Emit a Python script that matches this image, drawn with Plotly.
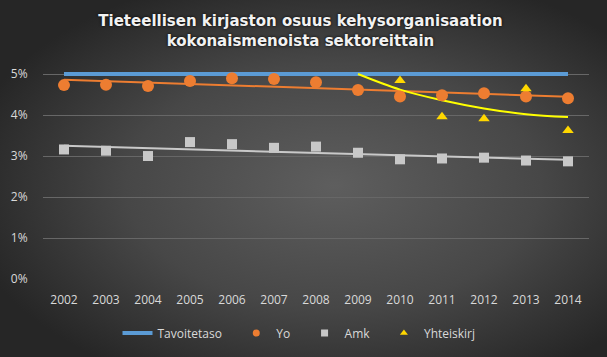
import base64
import numpy as np
import plotly.graph_objects as go

years = [str(y) for y in range(2002, 2015)]
tavoite = [0.05] * 13
yo = [4.73, 4.74, 4.71, 4.83, 4.90, 4.88, 4.80, 4.61, 4.45, 4.48, 4.53, 4.45, 4.41]
amk = [3.16, 3.13, 3.00, 3.34, 3.29, 3.20, 3.23, 3.08, 2.92, 2.94, 2.96, 2.89, 2.87]
yht_years = ["2010", "2011", "2012", "2013", "2014"]
yht = [4.84, 3.96, 3.91, 4.64, 3.62]
# trendline of Yhteiskirj
yht_trend_years = ["2009", "2010", "2011", "2012", "2013", "2014"]
yht_trend = [5.00, 4.62, 4.36, 4.16, 4.02, 3.95]
y_ticks = [0, 0.01, 0.02, 0.03, 0.04, 0.05]

W, H = 607, 357
L, R, T, B = 43, 18, 72, 78
pw, ph = W - L - R, H - T - B
PAD = "\u00a0\u00a0\u00a0"

# linear trendlines
xi = np.arange(len(years))
yo_fit = np.polyval(np.polyfit(xi, yo, 1), xi)
amk_fit = np.polyval(np.polyfit(xi, amk, 1), xi)

svg = f'''<svg xmlns="http://www.w3.org/2000/svg" width="{W}" height="{H}" preserveAspectRatio="none">
<defs><radialGradient id="g" cx="0.55" cy="0.52" r="0.62" gradientUnits="objectBoundingBox">
<stop offset="0" stop-color="#5e5e5e"/><stop offset="0.55" stop-color="#474747"/><stop offset="1" stop-color="#262626"/>
</radialGradient></defs><rect width="{W}" height="{H}" fill="url(#g)"/></svg>'''
src = "data:image/svg+xml;base64," + base64.b64encode(svg.encode()).decode()

fig = go.Figure()
fig.add_trace(go.Scatter(x=years, y=tavoite, mode="lines", name="Tavoitetaso" + PAD,
                         line=dict(color="#5B9BD5", width=4)))
fig.add_trace(go.Scatter(x=years, y=yo_fit / 100, mode="lines", showlegend=False,
                         line=dict(color="#ED7D31", width=2), hoverinfo="skip"))
fig.add_trace(go.Scatter(x=years, y=amk_fit / 100, mode="lines", showlegend=False,
                         line=dict(color="#C9C9C9", width=2), hoverinfo="skip"))
fig.add_trace(go.Scatter(x=yht_trend_years, y=[v / 100 for v in yht_trend], mode="lines",
                         showlegend=False, line=dict(color="#FFFF00", width=2, shape="spline"),
                         hoverinfo="skip"))
fig.add_trace(go.Scatter(x=years, y=[v / 100 for v in yo], mode="markers", showlegend=False,
                         marker=dict(color="#ED7D31", size=12, symbol="circle")))
fig.add_trace(go.Scatter(x=years, y=[v / 100 for v in amk], mode="markers", showlegend=False,
                         marker=dict(color="#C8C8C8", size=10, symbol="square")))
fig.add_trace(go.Scatter(x=yht_years, y=[v / 100 for v in yht], mode="markers", showlegend=False,
                         marker=dict(color="#FFD700", size=10, symbol="triangle-up")))
# legend entries with small symbols
for nm, col, sym in [("Yo", "#ED7D31", "circle"), ("Amk", "#C8C8C8", "square"),
                     ("Yhteiskirj", "#FFD700", "triangle-up")]:
    fig.add_trace(go.Scatter(x=[None], y=[None], mode="markers", name=nm + PAD,
                             marker=dict(color=col, size=7, symbol=sym)))

fig.update_layout(
    width=W, height=H,
    margin=dict(l=L, r=R, t=T, b=B, autoexpand=False),
    paper_bgcolor="#3a3a3a", plot_bgcolor="rgba(0,0,0,0)",
    font=dict(family="Open Sans, DejaVu Sans, sans-serif", color="#D9D9D9", size=12),
    title=dict(text="Tieteellisen kirjaston osuus kehysorganisaation<br>kokonaismenoista sektoreittain",
               x=0.495, xref="container", xanchor="center", y=1 - 26 / H, yref="container",
               yanchor="top",
               font=dict(family="DejaVu Sans, sans-serif", size=15, color="#F2F2F2",
                         weight="bold", shadow="0px 0px 3px #000")),
    showlegend=True,
    legend=dict(orientation="h", x=0.5, xanchor="center", xref="container",
                y=1 - 333 / H, yref="container", yanchor="middle",
                font=dict(size=12, color="#D9D9D9"), bgcolor="rgba(0,0,0,0)",
                traceorder="normal"),
    images=[dict(source=src, xref="paper", yref="paper", x=-L / pw, y=1 + T / ph,
                 sizex=W / pw, sizey=H / ph, sizing="stretch", layer="below",
                 xanchor="left", yanchor="top")],
)
fig.update_xaxes(type="category", range=[-0.5, 12.5], showgrid=False, zeroline=False,
                 showline=False, ticks="outside", ticklen=10, tickcolor="rgba(0,0,0,0)",
                 tickfont=dict(size=12, color="#D9D9D9"), automargin=False)
fig.update_yaxes(range=[0, 0.0505], tickvals=y_ticks, tickformat=".0%",
                 showgrid=True, gridcolor="#676767", gridwidth=1, zeroline=False,
                 ticks="outside", ticklen=12, tickcolor="rgba(0,0,0,0)",
                 tickfont=dict(size=12, color="#D9D9D9"), automargin=False)

fig.write_html("out.html", config={"displayModeBar": False},
               post_script="document.body.style.margin='0';")
